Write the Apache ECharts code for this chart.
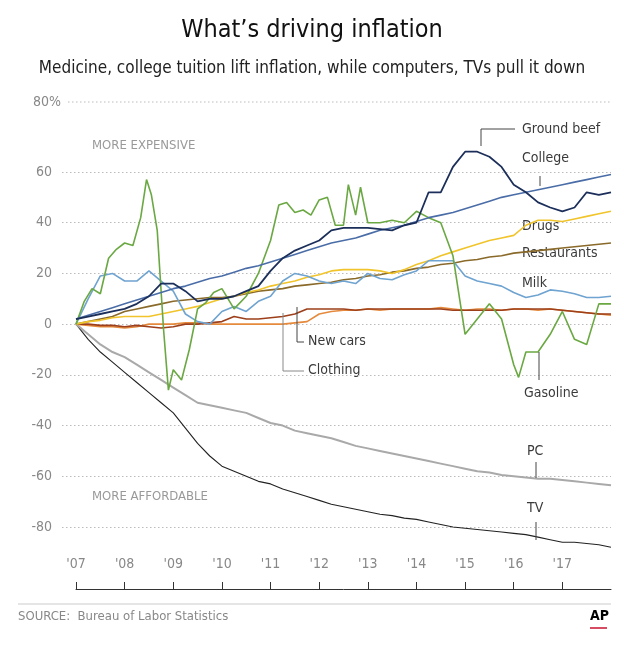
<!DOCTYPE html>
<html><head><meta charset="utf-8">
<script src="https://cdn.jsdelivr.net/npm/echarts@6/dist/echarts.min.js"></script>
<style>html,body{margin:0;padding:0;background:#fff}#c{width:624px;height:650px}</style>
</head><body><div id="c"></div>
<script>
const yearTicks = [2007,2008,2009,2010,2011,2012,2013,2014,2015,2016,2017];
const yearLabels = ["'07","'08","'09","'10","'11","'12","'13","'14","'15","'16","'17"];
const yTicks = [60,40,20,0,-20,-40,-60,-80];
// quarterly sample dates 2007.00 ... 2018.00
const quarterDates = [];
for (let i = 0; i <= 44; i++) quarterDates.push(2007 + i / 4);

const groundBeef = [2,3,4,5,6,8,11,16,16,13,9,10,10,11,13,15,21,26,29,31,33,37,38,38,38,37.5,37,39,40,52,52,62,68,68,66,62,55,52,48,46,44.5,46,52,51,52];
const college = [2,3.5,5,6.5,8,9.5,11,12.5,14,15,16.5,18,19,20.5,22,23,24.5,26,27.5,29,30.5,32,33,34,35.5,37,38,39,40.5,42,43,44,45.5,47,48.5,50,51,52,53,54,55,56,57,58,59];
const drugs = [0,1,1.5,2.5,3,3,3,4,5,6,7,8.5,10,11,12.5,13.5,15,16,17,18.5,19.5,21,21.5,21.5,21.5,21,20,21.5,23.5,25,27,28.5,30,31.5,33,34,35,39,41,41,40.5,41.5,42.5,43.5,44.5];
const restaurants = [0,1,2,3,5,6,7,8,9,9.5,10,10.5,10.5,11,12,13,13.5,14,15,15.5,16,16.5,17.5,18,19,19.5,20.5,21,22,22.5,23.5,24,25,25.5,26.5,27,28,28.5,29,29.5,30,30.5,31,31.5,32];
const milk = [0,10,19,20,17,17,21,17,13,4,1,0,5,7,5,9,11,17,20,19,17,16,17,16,20,18,17.5,19.5,21,25,25,25,19,17,16,15,12.5,10.5,11.5,13.5,13,12,10.5,10.5,11];
const newCars = [0,0,-0.5,-0.5,-1,-0.5,-1,-1.5,-1,0,0,0.5,1,3,2,2,2.5,3,4,6,6,6,6,5.5,6,6,6,6,6,6,6,5.5,5.5,5.5,5.5,5.5,6,6,6,6,5.5,5,4.5,4,4];
const clothing = [0,-0.5,-1,-1,-1.5,-1,0,0,0,0.5,0.5,0,0,0,0,0,0,0,0.5,1,4,5,5.5,5.5,6,5.5,6,6,6,6,6.5,6,5.5,6,6,5.5,6,6,5.5,6,5.5,5,4.5,4,3.5];
const pc = [0,-4,-8,-11,-13,-16,-19,-22,-25,-28,-31,-32,-33,-34,-35,-37,-39,-40,-42,-43,-44,-45,-46.5,-48,-49,-50,-51,-52,-53,-54,-55,-56,-57,-58,-58.5,-59.5,-60,-60.5,-61,-61,-61.5,-62,-62.5,-63,-63.5];
const tv = [0,-6,-11,-15,-19,-23,-27,-31,-35,-41,-47,-52,-56,-58,-60,-62,-63,-65,-66.5,-68,-69.5,-71,-72,-73,-74,-75,-75.5,-76.5,-77,-78,-79,-80,-80.5,-81,-81.5,-82,-82.5,-83,-84,-85,-86,-86,-86.5,-87,-88];
const gasDates = [2007,2007.17,2007.33,2007.5,2007.67,2007.83,2008,2008.17,2008.33,2008.45,2008.55,2008.67,2008.8,2008.9,2009,2009.17,2009.33,2009.5,2009.67,2009.83,2010,2010.25,2010.5,2010.75,2011,2011.17,2011.33,2011.5,2011.67,2011.83,2012,2012.17,2012.33,2012.5,2012.6,2012.75,2012.85,2013,2013.25,2013.5,2013.75,2014,2014.25,2014.5,2014.75,2015,2015.25,2015.5,2015.75,2016,2016.1,2016.25,2016.5,2016.75,2017,2017.25,2017.5,2017.75,2018];
const gasoline = [0,9,14,12,26,29.5,32,31,42,57,51,37,-2,-26,-18,-22,-10,6,8.5,12.5,14,6,11,20,33,47,48,44,45,43,49,50,39,39,55,43,54,40,40,41,40,44.5,42,40,27,-4,2,8,2,-16,-21,-11,-11,-4,5,-6,-8,8,8];

const pair = (xs, ys) => ys.map((v, i) => [xs[i], v]);
const FONT = '"Liberation Sans Narrow","DejaVu Sans Condensed","Roboto",sans-serif';
const mk = (name, xs, ys, color, w) => ({
  name, type: 'line', xAxisIndex: 1, yAxisIndex: 1, data: pair(xs, ys),
  showSymbol: false, clip: false, smooth: false, lineStyle: { color, width: w || 1.6 }, z: 3
});

const chart = echarts.init(document.getElementById('c'), null, { renderer: 'canvas' });
const lbl = (text, x, y, extra) => ({ type: 'text', left: x, top: y, style: Object.assign({ text, fill: '#3a3a3a', font: '14px ' + FONT }, extra || {}) });
const ln = (pts, color) => ({ type: 'polyline', shape: { points: pts }, style: { stroke: color || '#444', lineWidth: 1, fill: null }, z: 10 });

chart.setOption({
  animation: false,
  grid: [
    { left: 62, right: 13, top: 172, bottom: 123 },
    { left: 76, right: 13, top: 172, bottom: 123 }
  ],
  xAxis: [
    { gridIndex: 0, type: 'value', min: 0, max: 1, show: false },
    { gridIndex: 1, type: 'value', min: 2007, max: 2018, interval: 1, offset: 62, position: 'bottom',
      axisLine: { onZero: false, lineStyle: { color: '#333', width: 1 } },
      axisTick: { inside: true, length: 7, lineStyle: { color: '#333' }, customValues: yearTicks },
      axisLabel: { inside: true, margin: 18, color: '#888', fontFamily: FONT, fontSize: 14, customValues: yearTicks,
        formatter: v => yearLabels[yearTicks.indexOf(Math.round(v))] || '' },
      splitLine: { show: false } }
  ],
  yAxis: [
    { gridIndex: 0, type: 'value', min: -80, max: 60, interval: 20,
      axisLine: { show: false }, axisTick: { show: false },
      axisLabel: { color: '#888', fontFamily: FONT, fontSize: 14, margin: 10 },
      splitLine: { lineStyle: { color: '#bbb', type: [1.5, 2.5], width: 1 } } },
    { gridIndex: 1, type: 'value', min: -80, max: 60, interval: 20, show: false, splitLine: { show: false } }
  ],
  series: [
    mk('TV', quarterDates, tv, '#222', 1.1),
    mk('PC', quarterDates, pc, '#a9a9a9', 2),
    mk('Clothing', quarterDates, clothing, '#e58a3c'),
    mk('New cars', quarterDates, newCars, '#9c3f1a'),
    mk('Restaurants', quarterDates, restaurants, '#8a6a2a'),
    mk('Drugs', quarterDates, drugs, '#f0c42a'),
    mk('Milk', quarterDates, milk, '#6fa3d0'),
    mk('Gasoline', gasDates, gasoline, '#6aa842'),
    mk('College', quarterDates, college, '#4a6da8'),
    mk('Ground beef', quarterDates, groundBeef, '#1c2f5a', 1.8)
  ],
  graphic: [
    { type: 'text', left: 'center', top: 18, style: { text: 'What’s driving inflation', fill: '#111', font: '25px ' + FONT } },
    { type: 'text', left: 'center', top: 60, style: { text: 'Medicine, college tuition lift inflation, while computers, TVs pull it down', fill: '#222', font: '17px ' + FONT } },
    { type: 'line', shape: { x1: 68, y1: 102, x2: 611, y2: 102 }, style: { stroke: '#bbb', lineDash: [1.5, 2.5], lineWidth: 1 } },
    { type: 'text', x: 61, y: 102, style: { text: '80%', fill: '#888', font: '14px ' + FONT, textAlign: 'right', textVerticalAlign: 'middle' } },
    lbl('MORE EXPENSIVE', 92, 139, { fill: '#999', font: '13px ' + FONT }),
    lbl('MORE AFFORDABLE', 92, 490, { fill: '#999', font: '13px ' + FONT }),
    lbl('Ground beef', 522, 122), ln([[481, 146], [481, 129], [515, 129]]),
    lbl('College', 522, 151), ln([[540, 176], [540, 186]]),
    lbl('Drugs', 522, 219),
    lbl('Restaurants', 522, 246),
    lbl('Milk', 522, 276),
    lbl('New cars', 308, 334), ln([[297, 307], [297, 342], [304, 342]]),
    lbl('Clothing', 308, 363), ln([[283, 313], [283, 371], [304, 371]], '#888'),
    lbl('Gasoline', 524, 386), ln([[539, 352], [539, 380]]),
    lbl('PC', 527, 444), ln([[536, 462], [536, 478]]),
    lbl('TV', 527, 501), ln([[536, 522], [536, 540]]),
    { type: 'line', shape: { x1: 18, y1: 604, x2: 611, y2: 604 }, style: { stroke: '#ccc', lineWidth: 1.2 } },
    lbl('SOURCE:  Bureau of Labor Statistics', 18, 610, { fill: '#888', font: '13px ' + FONT }),
    { type: 'text', left: 590, top: 609, style: { text: 'AP', fill: '#000', font: 'bold 14px ' + FONT } },
    { type: 'line', shape: { x1: 590, y1: 628, x2: 607, y2: 628 }, style: { stroke: '#c8102e', lineWidth: 1.5 } }
  ]
});
</script></body></html>
